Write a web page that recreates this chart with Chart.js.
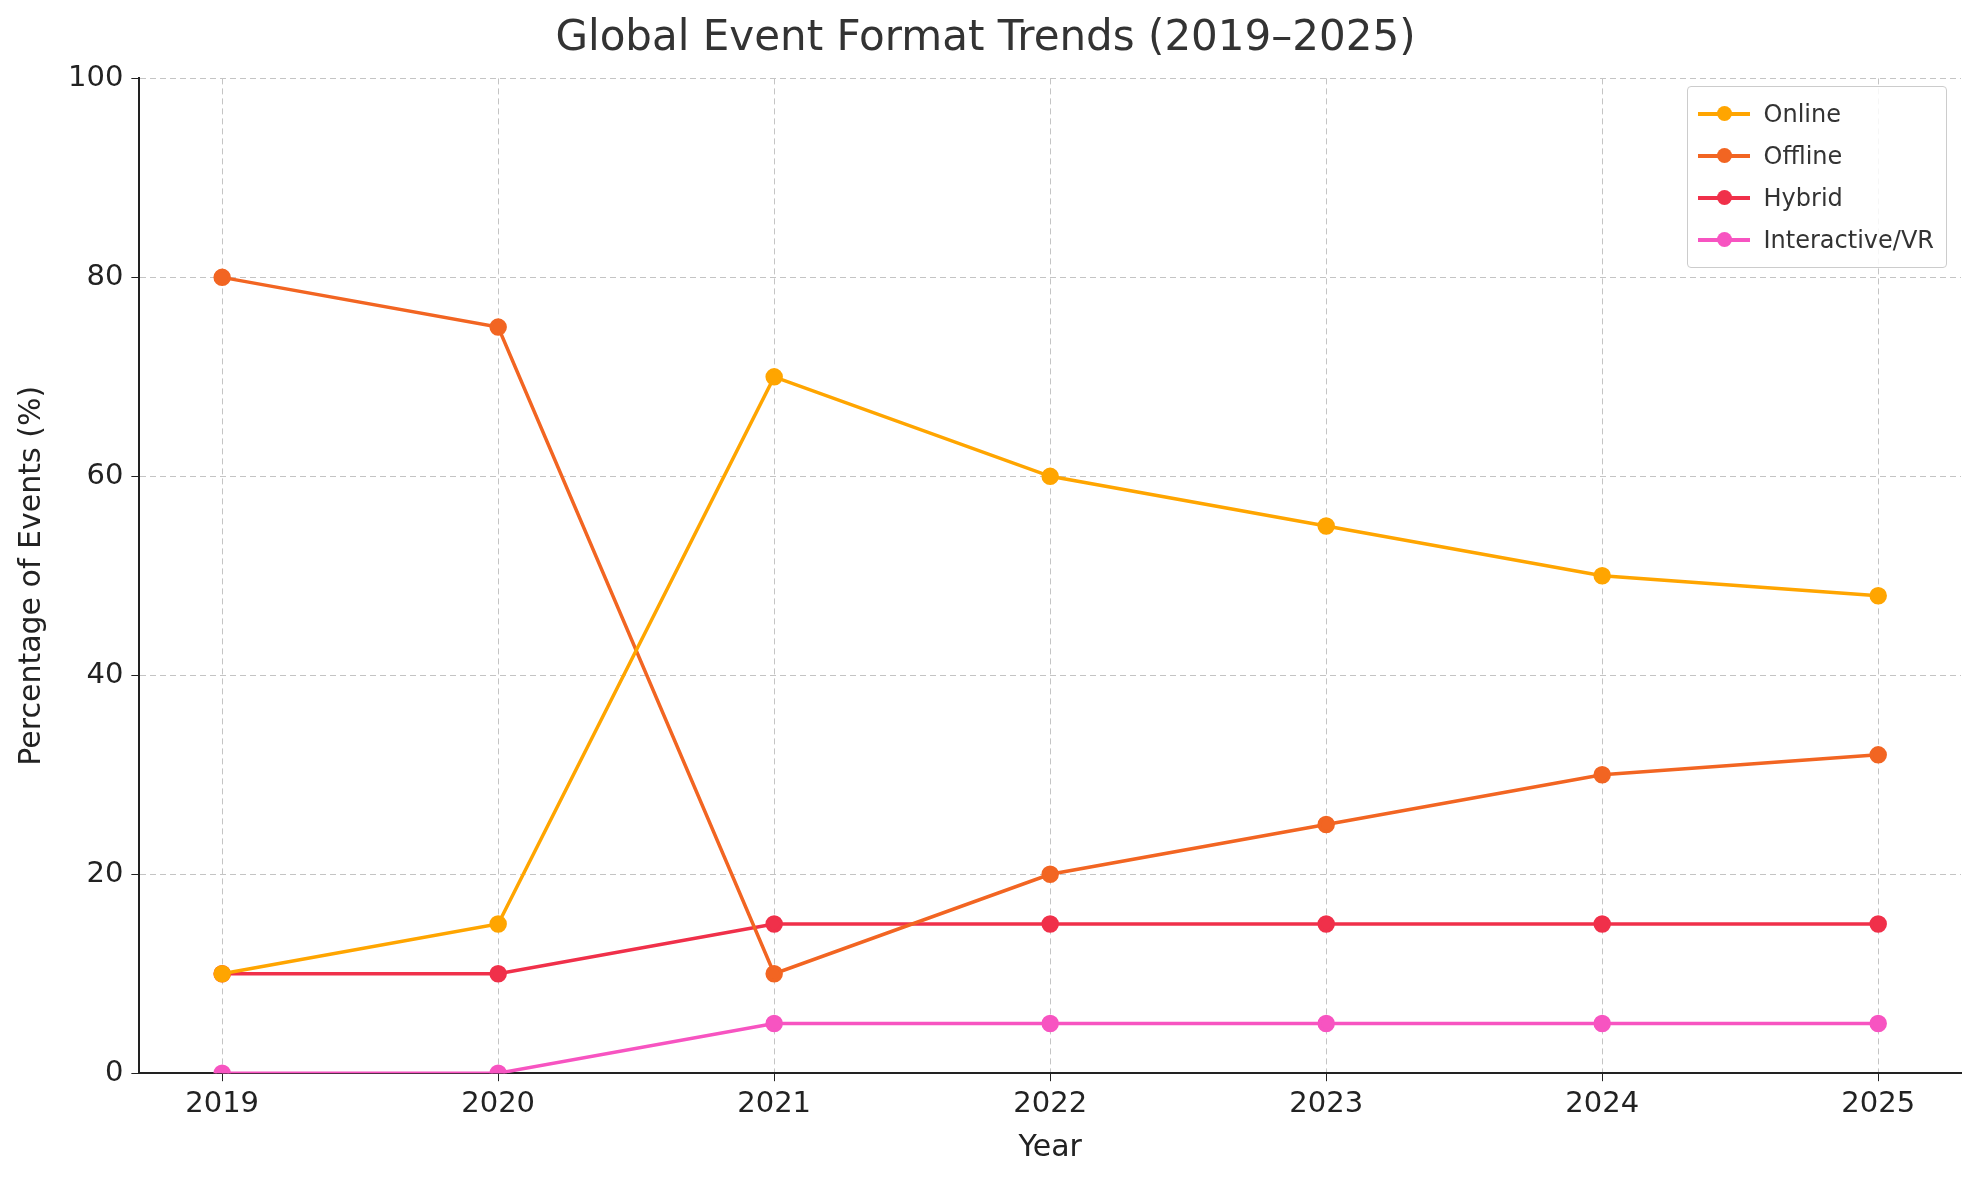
<!DOCTYPE html>
<html>
<head>
<meta charset="utf-8">
<script src="https://cdn.jsdelivr.net/npm/chart.js@4/dist/chart.umd.min.js"></script>
<style>
    body { margin: 0; background: #fff; font-family: "DejaVu Sans", sans-serif; }
    #wrap { position: relative; width: 1979px; height: 1180px; }
    #legend {
        position: absolute; right: 32px; top: 86px;
        border: 1px solid #ccc; border-radius: 4px; background: rgba(255,255,255,0.85);
        padding: 6px 12px 6px 10px; font-size: 24px; color: #333;
    }
    .item { display: flex; align-items: center; height: 42px; }
    .sym { position: relative; width: 52px; height: 4px; margin-right: 14px; }
    .sym i { position: absolute; left: 19px; top: -6px; width: 15px; height: 15px; border-radius: 50%; }
</style>
</head>
<body>
<div id="wrap">
    <canvas id="chart" width="1979" height="1180"></canvas>
    <div id="legend"></div>
</div>
<script>
const years = [2019, 2020, 2021, 2022, 2023, 2024, 2025];
const online = [10, 15, 70, 60, 55, 50, 48];
const offline = [80, 75, 10, 20, 25, 30, 32];
const hybrid = [10, 10, 15, 15, 15, 15, 15];
const interactiveVR = [0, 0, 5, 5, 5, 5, 5];
const yTicks = [0, 20, 40, 60, 80, 100];

const seriesDefs = [
    { label: 'Online', data: online, color: '#FFA500' },
    { label: 'Offline', data: offline, color: '#F26522' },
    { label: 'Hybrid', data: hybrid, color: '#F0304A' },
    { label: 'Interactive/VR', data: interactiveVR, color: '#F754C1' }
];

document.getElementById('legend').innerHTML = seriesDefs.map(s => `
    <div class="item"><span class="sym" style="background:${s.color}"><i style="background:${s.color}"></i></span>${s.label}</div>
`).join('');

const grid = { color: '#c4c4c4', lineWidth: 1, drawTicks: true, tickLength: 8, tickColor: '#222', tickBorderDash: [] };
const border = { display: true, color: '#222', width: 2, dash: [6, 4] };

new Chart(document.getElementById('chart').getContext('2d'), {
    type: 'line',
    data: {
        datasets: seriesDefs.map(s => ({
            label: s.label,
            data: s.data.map((v, i) => ({ x: years[i], y: v })),
            borderColor: s.color,
            backgroundColor: s.color,
            borderWidth: 3.5,
            pointRadius: 7,
            pointHoverRadius: 7,
            tension: 0
        }))
    },
    options: {
        responsive: false,
        animation: false,
        layout: { padding: { left: 10, right: 18, top: 6, bottom: 10 } },
        plugins: {
            legend: { display: false },
            tooltip: { enabled: false },
            title: {
                display: true,
                text: 'Global Event Format Trends (2019–2025)',
                color: '#333',
                font: { family: 'DejaVu Sans', size: 42, weight: 'normal' },
                padding: { top: 8, bottom: 14 }
            }
        },
        scales: {
            x: {
                type: 'linear',
                min: 2018.7,
                max: 2025.3,
                afterBuildTicks: (axis) => { axis.ticks = years.map(v => ({ value: v })); },
                ticks: { color: '#222', font: { family: 'DejaVu Sans', size: 29 }, callback: v => String(v), padding: 6 },
                grid: grid,
                border: border,
                title: { display: true, text: 'Year', color: '#222', font: { family: 'DejaVu Sans', size: 30 }, padding: { top: 2 } }
            },
            y: {
                min: 0,
                max: 100,
                afterBuildTicks: (axis) => { axis.ticks = yTicks.map(v => ({ value: v })); },
                ticks: { color: '#222', font: { family: 'DejaVu Sans', size: 29 }, padding: 8 },
                grid: grid,
                border: border,
                title: { display: true, text: 'Percentage of Events (%)', color: '#222', font: { family: 'DejaVu Sans', size: 30 }, padding: { bottom: 10 } }
            }
        }
    }
});
</script>
</body>
</html>
